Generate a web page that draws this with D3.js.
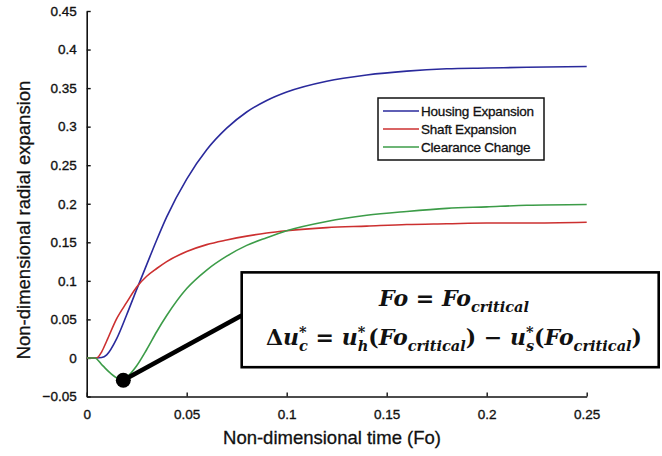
<!DOCTYPE html>
<html>
<head>
<meta charset="utf-8">
<script src="https://cdn.jsdelivr.net/npm/d3@7"></script>
<style>
  body { margin: 0; background: #fff; }
  svg { display: block; font-family: "Liberation Sans", Arial, sans-serif; }
</style>
</head>
<body>
<div id="chart"></div>
<script>
// values
var fo = [0, 0.005, 0.0075, 0.01, 0.015, 0.02, 0.025, 0.03, 0.035, 0.04, 0.05, 0.06, 0.07,
  0.08, 0.09, 0.1, 0.12, 0.14, 0.16, 0.18, 0.2, 0.22, 0.25];
var housing = [0, 0, 0.0005, 0.004, 0.025, 0.056, 0.089, 0.121, 0.153, 0.183, 0.232, 0.27, 0.298,
  0.319, 0.334, 0.345, 0.359, 0.367, 0.372, 0.375, 0.376, 0.377, 0.378];
var shaft = [0, 0, 0.008, 0.022, 0.051, 0.072, 0.092, 0.106, 0.116, 0.125, 0.138, 0.147, 0.153,
  0.158, 0.162, 0.165, 0.169, 0.171, 0.173, 0.174, 0.175, 0.175, 0.176];
var clearanceFo = [0, 0.004, 0.008, 0.012, 0.016, 0.018, 0.02, 0.025, 0.03, 0.035, 0.04, 0.05, 0.06,
  0.07, 0.08, 0.09, 0.1, 0.12, 0.14, 0.16, 0.18, 0.2, 0.22, 0.25];
var clearance = [0, 0, -0.01, -0.02, -0.027, -0.028, -0.025, -0.01, 0.011, 0.034, 0.055, 0.09, 0.114,
  0.132, 0.146, 0.156, 0.165, 0.177, 0.185, 0.19, 0.194, 0.196, 0.198, 0.199];

var seriesNames = ["Housing Expansion", "Shaft Expansion", "Clearance Change"];
var seriesColors = ["#2a2a9c", "#cc3030", "#3c9c48"];

var xTicks = [0, 0.05, 0.1, 0.15, 0.2, 0.25];
var yTicks = [-0.05, 0, 0.05, 0.1, 0.15, 0.2, 0.25, 0.3, 0.35, 0.4, 0.45];

// critical point and the callout box (data units)
var critical = { fo: 0.0183, v: -0.029 };
var callout = { fo0: 0.0775, fo1: 0.286, vTop: 0.111, vBot: -0.012, vLead: 0.055 };

var W = 662, H = 456;
var svg = d3.select("#chart").append("svg")
  .attr("width", W).attr("height", H);

var x = d3.scaleLinear().domain([0, 0.25]).range([86.7, 586.7]);
var y = d3.scaleLinear().domain([-0.05, 0.45]).range([396.5, 11]);

// axes, ticks point inward
var yAxis = d3.axisLeft(y).tickValues(yTicks).tickSizeInner(-4).tickSizeOuter(0)
  .tickPadding(10).tickFormat(d3.format("~g"));
var xAxis = d3.axisBottom(x).tickValues(xTicks).tickSizeInner(-4).tickSizeOuter(0)
  .tickPadding(13).tickFormat(d3.format("~g"));

var gy = svg.append("g").attr("transform", "translate(" + x(0) + ",0)").call(yAxis);
var gx = svg.append("g").attr("transform", "translate(0," + y(-0.05) + ")").call(xAxis);

[gx, gy].forEach(function (g) {
  g.select(".domain").attr("stroke", "#111").attr("stroke-width", 1.6);
  g.selectAll(".tick line").attr("stroke", "#111").attr("stroke-width", 1.4);
  g.selectAll(".tick text").attr("fill", "#111")
    .attr("stroke", "#111").attr("stroke-width", 0.35)
    .style("font-size", "13.5px").style("font-family", "'Liberation Sans', Arial, sans-serif");
});

svg.append("text")
  .attr("x", 332).attr("y", 444)
  .attr("text-anchor", "middle")
  .style("font-size", "18.5px").attr("fill", "#111")
  .attr("stroke", "#111").attr("stroke-width", 0.3)
  .text("Non-dimensional time (Fo)");

svg.append("text")
  .attr("transform", "translate(30,220) rotate(-90)")
  .attr("text-anchor", "middle")
  .style("font-size", "18.5px").attr("fill", "#111")
  .attr("stroke", "#111").attr("stroke-width", 0.3)
  .text("Non-dimensional radial expansion");

// curves
var line = d3.line().curve(d3.curveMonotoneX);
var series = [
  fo.map(function (f, i) { return [x(f), y(housing[i])]; }),
  fo.map(function (f, i) { return [x(f), y(shaft[i])]; }),
  clearanceFo.map(function (f, i) { return [x(f), y(clearance[i])]; })
];

svg.append("g").selectAll("path")
  .data(series)
  .enter().append("path")
  .attr("d", line)
  .attr("fill", "none")
  .attr("stroke", function (d, i) { return seriesColors[i]; })
  .attr("stroke-width", 1.6);

// legend
var leg = svg.append("g");
leg.append("rect")
  .attr("x", 378).attr("y", 98).attr("width", 166).attr("height", 62)
  .attr("fill", "#fff").attr("stroke", "#111").attr("stroke-width", 1.5);
var rows = leg.selectAll("g.row").data(seriesNames).enter().append("g")
  .attr("class", "row")
  .attr("transform", function (d, i) { return "translate(0," + [111, 129, 147][i] + ")"; });
rows.append("line")
  .attr("x1", 383).attr("x2", 419)
  .attr("stroke", function (d, i) { return seriesColors[i]; })
  .attr("stroke-width", 1.3);
rows.append("text")
  .attr("x", 421).attr("dy", "0.35em")
  .style("font-size", "13.5px").style("letter-spacing", "-0.2px").attr("fill", "#111")
  .attr("stroke", "#111").attr("stroke-width", 0.3)
  .text(function (d) { return d; });

// callout
var bx0 = x(callout.fo0), bx1 = x(callout.fo1), by0 = y(callout.vTop), by1 = y(callout.vBot);
svg.append("line")
  .attr("x1", x(critical.fo)).attr("y1", y(critical.v))
  .attr("x2", bx0).attr("y2", y(callout.vLead))
  .attr("stroke", "#000").attr("stroke-width", 4.5);
svg.append("circle")
  .attr("cx", x(critical.fo)).attr("cy", y(critical.v)).attr("r", 7.5)
  .attr("fill", "#000");
svg.append("rect")
  .attr("x", bx0).attr("y", by0).attr("width", bx1 - bx0).attr("height", by1 - by0)
  .attr("fill", "#fff").attr("stroke", "#000").attr("stroke-width", 2.6);

var mathFont = "'DejaVu Serif', 'Liberation Serif', serif";
function mathLine(parts, cx, baseline, size) {
  var t = svg.append("text")
    .attr("x", cx).attr("y", baseline)
    .attr("text-anchor", "middle")
    .style("font-family", mathFont).style("font-size", size + "px")
    .style("font-weight", "bold").attr("fill", "#111");
  var shift = 0, prev = null;
  parts.forEach(function (p) {
    var ts = t.append("tspan").text(p.t);
    var target = p.sup ? -0.36 * size : p.sub ? 0.26 * size : 0;
    if (target !== shift) { ts.attr("dy", target - shift); shift = target; }
    if (p.small) ts.style("font-size", (size * 0.66) + "px");
    if (!p.up) ts.style("font-style", "italic");
    if (p.back && prev) ts.attr("dx", -prev.node().getComputedTextLength());
    prev = ts;
  });
  return t;
}

mathLine([
  { t: "Fo" }, { t: " = ", up: true }, { t: "Fo" }, { t: "critical", sub: true, small: true }
], 454, 306, 22);

mathLine([
  { t: "Δ", up: true }, { t: "u" }, { t: "*", sup: true, small: true, up: true },
  { t: "c", sub: true, small: true, back: true },
  { t: " = ", up: true }, { t: "u" }, { t: "*", sup: true, small: true, up: true },
  { t: "h", sub: true, small: true, back: true },
  { t: "(", up: true }, { t: "Fo" }, { t: "critical", sub: true, small: true },
  { t: ") − ", up: true }, { t: "u" }, { t: "*", sup: true, small: true, up: true },
  { t: "s", sub: true, small: true, back: true },
  { t: "(", up: true }, { t: "Fo" }, { t: "critical", sub: true, small: true },
  { t: ")", up: true }
], 454, 345, 22);
</script>
</body>
</html>
